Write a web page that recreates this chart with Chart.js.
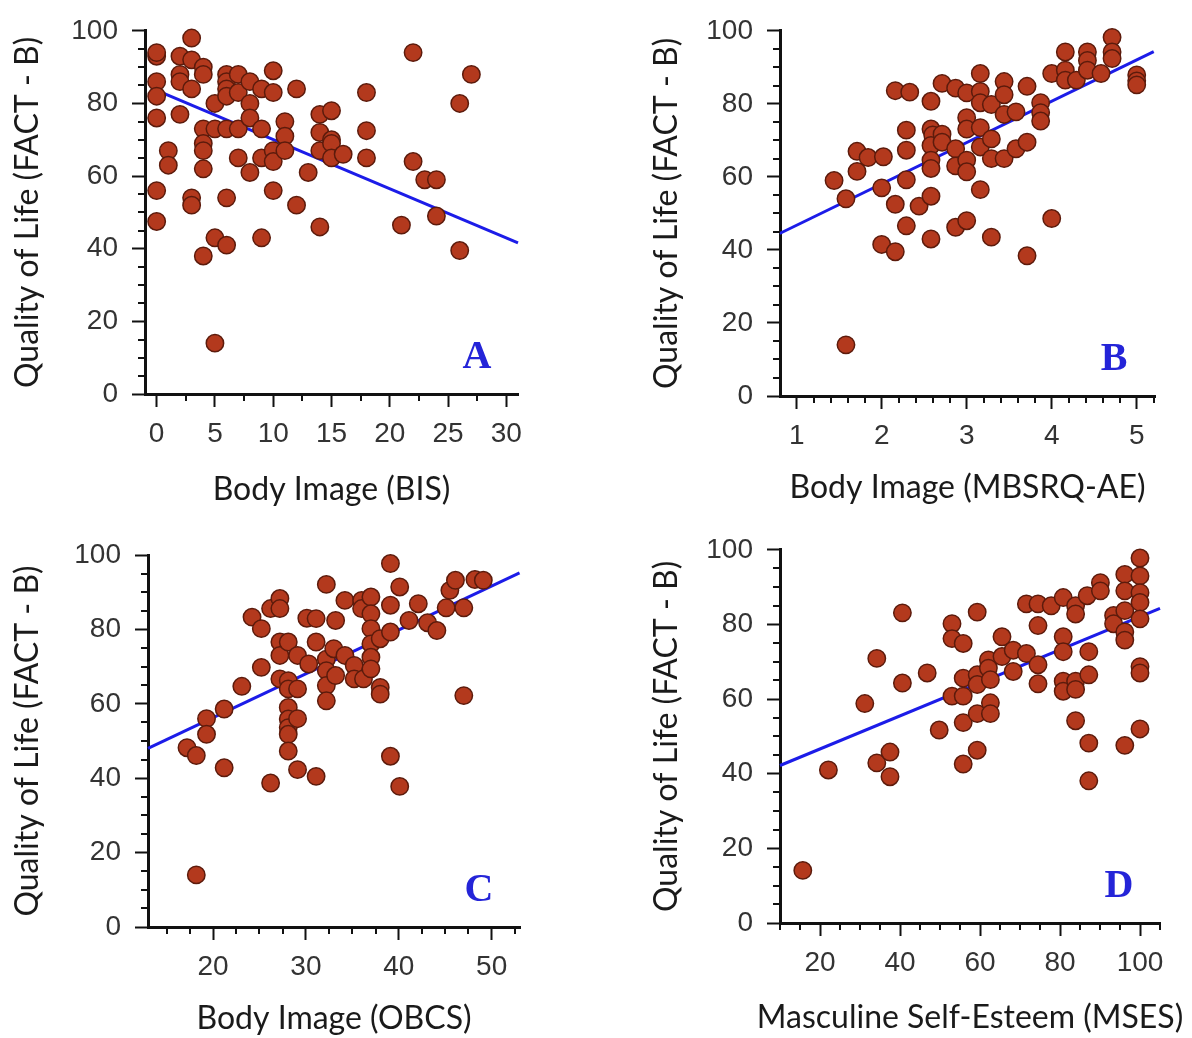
<!DOCTYPE html>
<html>
<head>
<meta charset="utf-8">
<script src="https://cdn.jsdelivr.net/npm/chart.js@4"></script>
<style>
  html, body { margin: 0; padding: 0; background: #fff; }
  #wrap { position: relative; width: 1192px; height: 1038px; overflow: hidden; }
  canvas { position: absolute; }
</style>
</head>
<body>
<div id="wrap">
  <canvas id="cA" width="596" height="519" style="left:0;top:0;width:596px;height:519px"></canvas>
  <canvas id="cB" width="596" height="519" style="left:596px;top:0;width:596px;height:519px"></canvas>
  <canvas id="cC" width="596" height="519" style="left:0;top:519px;width:596px;height:519px"></canvas>
  <canvas id="cD" width="596" height="519" style="left:596px;top:519px;width:596px;height:519px"></canvas>
</div>
<script>
// ---------- DATA ----------
const yTitle = "Quality of Life (FACT - B)";
const xTitles = ["Body Image (BIS)", "Body Image (MBSRQ-AE)", "Body Image (OBCS)", "Masculine Self-Esteem (MSES)"];
const panelLetters = ["A", "B", "C", "D"];

const yTicks = [0, 20, 40, 60, 80, 100];
const xTicksA = [0, 5, 10, 15, 20, 25, 30];
const xTicksB = [1, 2, 3, 4, 5];
const xTicksC = [20, 30, 40, 50];
const xTicksD = [20, 40, 60, 80, 100];

// [score, FACT-B]
const pointsA = [
  [0,93],[0,94],[0,86],[0,82],[0,76],[0,56],[0,47.5],
  [1,67],[1,63],
  [2,93],[2,88],[2,86],[2,77],
  [3,98],[3,92],[3,84],[3,54],[3,52],
  [4,90],[4,88],[4,73],[4,69],[4,67],[4,62],[4,38],
  [5,80],[5,73],[5,43],[5,14],
  [6,88],[6,86],[6,84],[6,82],[6,73],[6,54],[6,41],
  [7,88],[7,83],[7,73],[7,65],
  [8,86],[8,80],[8,76],[8,61],
  [9,84],[9,73],[9,65],[9,43],
  [10,89],[10,83],[10,67],[10,64],[10,56],
  [11,75],[11,71],[11,67],
  [12,84],[12,52],
  [13,61],
  [14,77],[14,72],[14,67],[14,46],
  [15,78],[15,70],[15,69],[15,65],
  [16,66],
  [18,83],[18,72.5],[18,65],
  [21,46.5],
  [22,94],[22,64],
  [23,59],[24,59],[24,49],
  [26,80],[26,39.5],[27,88]
];
const pointsB = [
  [1.44,59],[1.58,54],[1.58,14],[1.71,67],[1.71,61.5],[1.84,65.3],[2.02,65.5],[2.0,57],[2.0,41.5],
  [2.16,39.5],[2.16,52.5],[2.16,83.6],[2.33,83.2],[2.29,72.8],[2.29,67.3],[2.29,59.2],[2.29,46.6],[2.44,52],
  [2.58,80.7],[2.58,73.1],[2.6,71.5],[2.58,68.6],[2.58,64.6],[2.58,62.3],[2.58,54.7],[2.58,43],
  [2.71,85.6],[2.71,71.7],[2.71,69.5],
  [2.87,84.3],[2.87,67.7],[2.87,63],[2.87,46.2],
  [3.0,83],[3.0,76.2],[3.0,73.1],[3.0,64.6],[3.0,61.4],[3.0,48],
  [3.16,88.3],[3.16,83.4],[3.16,80.3],[3.16,73.5],[3.16,68.2],[3.16,56.5],
  [3.29,79.8],[3.29,70.4],[3.29,65],[3.29,43.5],
  [3.44,86.1],[3.44,82.5],[3.44,77.1],[3.44,65],
  [3.58,77.8],[3.58,67.7],
  [3.71,84.8],[3.71,69.5],[3.71,38.4],
  [3.87,80.3],[3.87,77.6],[3.87,75.3],
  [4.0,88.3],[4.0,48.6],
  [4.16,94.2],[4.16,89.2],[4.16,86.5],
  [4.29,86.5],
  [4.42,94.2],[4.42,91.9],[4.42,89.2],
  [4.58,88.3],
  [4.71,98.2],[4.71,94.2],[4.71,92.4],
  [5.0,87.9],[5.0,86.3],[5.0,85.2]
];
const pointsC = [
  [17.2,48.2],[18.2,46.1],[18.2,14],[19.3,56],[19.3,51.8],[21.2,58.6],[21.2,42.8],[23.1,64.7],
  [24.2,83.3],[25.2,80.2],[25.2,69.8],[26.2,85.6],[27.2,88.3],[27.2,85.6],[26.2,38.7],
  [27.2,76.6],[27.2,73],[27.2,66.7],
  [28.1,76.6],[28.1,66.2],[28.1,64],[28.1,59],[28.1,55.9],[28.1,53.6],[28.1,51.8],[28.1,47.3],
  [29.1,73],[29.1,64],[29.1,56],[29.1,42.3],
  [30.3,70.7],[30.1,83],[31.1,82.9],[31.1,76.6],[31.1,40.5],
  [32.2,92.1],[32.2,72],[32.2,68.9],[32.2,64.9],[32.2,60.8],
  [33.2,82.4],[33,74.8],[33.2,67.6],
  [34.2,87.8],[34.2,73],[35.2,70.3],[35.2,66.7],
  [36,87.8],[36,85.6],[36.2,66.7],
  [37,88.7],[37,84.2],[37,80.2],[37,76.1],[37,72.5],[37,69.4],
  [38,77.5],[38,64.4],[38,62.6],
  [39.1,86.5],[39.1,79.3],[39.1,97.7],[39.1,45.9],
  [40.1,91.4],[40.1,37.8],[41.1,82.4],[42.1,86.9],[43.1,81.8],[44.1,79.7],
  [45.1,85.8],[45.5,90.5],[46.1,93.2],[47,85.8],[47,62.2],[48.2,93.4],[49.1,93.2]
];
const pointsD = [
  [15.7,14.1],[22.1,41],[31.2,58.8],[34.2,70.9],[34.2,42.9],[37.5,45.8],[37.5,39.2],
  [40.6,83.1],[40.6,64.3],[46.8,67],[49.8,51.7],
  [53,80.2],[53,76.2],[53,60.8],
  [55.8,74.9],[55.8,65.6],[55.8,60.8],[55.8,53.7],[55.8,42.6],
  [59.3,83.3],[59.3,66.5],[59.3,63.9],[59.3,56.1],[59.3,46.3],
  [62.1,70.5],[62.1,68.3],[62.6,65.2],[62.6,59],[62.6,56.1],
  [65.5,76.7],[65.5,71.4],[68.3,73.1],[68.3,67.4],
  [71.6,85.5],[71.6,72.2],
  [74.5,85.5],[74.5,79.7],[74.5,69.2],[74.5,64.1],
  [77.8,85],
  [80.8,87.2],[80.8,76.7],[80.8,72.7],[80.8,64.8],[80.8,62.1],
  [83.9,85],[83.9,82.8],[83.9,64.8],[83.9,62.6],[83.9,54.2],
  [86.8,87.7],[87.2,72.7],[87.2,66.5],[87.2,48.2],[87.2,38.1],
  [90.1,91.2],[90.1,89],
  [93.4,82.4],[93.4,80.2],
  [96.2,93.4],[96.2,89],[96.2,83.7],[96.2,78],[96.2,75.8],[96.2,47.6],
  [100,97.8],[100,93],[100,88.5],[100,85.9],[100,81.5],[100,68.7],[100,67],[100,52]
];

// fitted lines: [x, y] at both ends
const fitA = [[0, 83.6], [31, 41.6]];
const fitB = [[0.8, 44.5], [5.2, 94.3]];
const fitC = [[13, 48], [53, 95.2]];
const fitD = [[10, 42.2], [105, 84.3]];

// x-axis ranges
const xRangeA = [-1, 31];
const xRangeB = [0.804, 5.215];
const xRangeC = [13, 53.05];
const xRangeD = [10, 105];

// ---------- STYLE / LAYOUT ----------
const CW = 596, CH = 519;
const panels = [
  { id: 'cA', pts: pointsA, fit: fitA, xr: xRangeA, xt: xTicksA, minor: 2.5, major: 5,  area: {l:145, r:518, t:25, b:394}, padL: 0,  xtY: 490 },
  { id: 'cB', pts: pointsB, fit: fitB, xr: xRangeB, xt: xTicksB, minor: 0.2, major: 1,  area: {l:184, r:559, t:22, b:396}, padL: 43, xtY: 488 },
  { id: 'cC', pts: pointsC, fit: fitC, xr: xRangeC, xt: xTicksC, minor: 2.5, major: 10, area: {l:148, r:520, t:36, b:408}, padL: 0,  xtY: 500 },
  { id: 'cD', pts: pointsD, fit: fitD, xr: xRangeD, xt: xTicksD, minor: 5,   major: 20, area: {l:184, r:564, t:26, b:404}, padL: 43, xtY: 499 }
];

const axisColor = '#111111';
const tickFont = { family: '"Liberation Sans", Arial, sans-serif', size: 28 };
const titleFont = { family: 'Lato, "Open Sans", sans-serif', size: 32 };

const minorTicksPlugin = {
  id: 'minorTicks',
  afterDraw(chart, args, o) {
    const ctx = chart.ctx;
    const xs = chart.scales.x, ys = chart.scales.y;
    ctx.save();
    ctx.strokeStyle = axisColor;
    ctx.lineWidth = 2;
    ctx.beginPath();
    const isMajor = (v, m) => Math.abs(v / m - Math.round(v / m)) < 1e-6;
    const x0 = Math.ceil(xs.min / o.xStep - 1e-9);
    for (let i = x0; i * o.xStep <= xs.max + 1e-9; i++) {
      const v = i * o.xStep;
      if (isMajor(v, o.xMajor)) continue;
      const px = Math.round(xs.getPixelForValue(v));
      ctx.moveTo(px, xs.top);
      ctx.lineTo(px, xs.top + 7);
    }
    for (let i = 0; i * 5 <= 100; i++) {
      const v = i * 5;
      if (isMajor(v, 20)) continue;
      const py = Math.round(ys.getPixelForValue(v));
      ctx.moveTo(ys.right, py);
      ctx.lineTo(ys.right - 7, py);
    }
    ctx.stroke();
    ctx.restore();
  }
};

// panel letter and x-axis title (drawn without width squeezing)
const labelsPlugin = {
  id: 'panelLabels',
  afterDraw(chart, args, o) {
    const ctx = chart.ctx;
    const a = chart.chartArea;
    ctx.save();
    ctx.fillStyle = '#2424d8';
    ctx.font = 'bold 40px "Liberation Serif", "Times New Roman", serif';
    ctx.textAlign = 'center';
    ctx.textBaseline = 'middle';
    ctx.fillText(o.letter, a.right - 41, a.bottom - 36);
    ctx.fillStyle = '#1a1a1a';
    ctx.font = titleFont.size + 'px ' + titleFont.family;
    ctx.fillText(o.xTitle, (a.left + a.right) / 2, o.xTitleY);
    ctx.restore();
  }
};

panels.forEach((p, idx) => {
  const ctx = document.getElementById(p.id).getContext('2d');
  new Chart(ctx, {
    type: 'scatter',
    data: {
      datasets: [
        {
          type: 'scatter',
          data: p.pts.map(d => ({ x: d[0], y: d[1] })),
          backgroundColor: '#b3391d',
          borderColor: '#5c1b0c',
          borderWidth: 1.5,
          pointRadius: 8.7,
          order: 0,
          clip: false
        },
        {
          type: 'line',
          data: p.fit.map(d => ({ x: d[0], y: d[1] })),
          borderColor: '#1c1ce8',
          borderWidth: 3,
          pointRadius: 0,
          fill: false,
          order: 1,
          clip: false
        }
      ]
    },
    options: {
      responsive: false,
      maintainAspectRatio: false,
      animation: false,
      devicePixelRatio: 1,
      events: [],
      layout: { padding: { left: p.padL, top: p.area.t, right: CW - p.area.r, bottom: 0 } },
      plugins: {
        legend: { display: false },
        tooltip: { enabled: false },
        minorTicks: { xStep: p.minor, xMajor: p.major },
        panelLabels: { letter: panelLetters[idx], xTitle: xTitles[idx], xTitleY: p.xtY }
      },
      scales: {
        x: {
          type: 'linear',
          position: 'bottom',
          min: p.xr[0],
          max: p.xr[1],
          afterBuildTicks: s => { s.ticks = p.xt.map(v => ({ value: v })); },
          afterFit: s => { s.height = CH - p.area.b; },
          ticks: { font: tickFont, color: '#333333', padding: 10, maxRotation: 0, autoSkip: false },
          grid: { display: true, drawOnChartArea: false, drawTicks: true, tickLength: 13, tickWidth: 2, tickColor: axisColor },
          border: { display: true, width: 3, color: axisColor },
          title: { display: false }
        },
        y: {
          type: 'linear',
          position: 'left',
          min: 0,
          max: 100,
          afterBuildTicks: s => { s.ticks = yTicks.map(v => ({ value: v })); },
          afterFit: s => { s.width = p.area.l - p.padL; },
          ticks: { font: tickFont, color: '#333333', padding: 14, autoSkip: false },
          grid: { display: true, drawOnChartArea: false, drawTicks: true, tickLength: 13, tickWidth: 2, tickColor: axisColor },
          border: { display: true, width: 3, color: axisColor },
          title: { display: true, text: yTitle, font: titleFont, color: '#1a1a1a', padding: { top: 8, bottom: 0 } }
        }
      }
    },
    plugins: [minorTicksPlugin, labelsPlugin]
  });
});
</script>
</body>
</html>
